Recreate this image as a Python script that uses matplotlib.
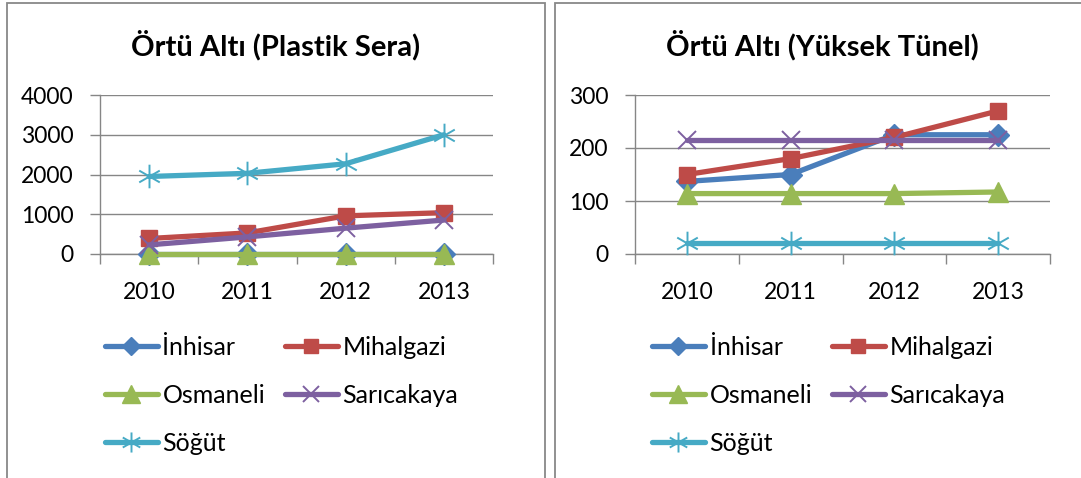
import matplotlib
matplotlib.use("Agg")
import matplotlib.pyplot as plt
from matplotlib.path import Path
from matplotlib.patches import Rectangle
import numpy as np

years = ["2010", "2011", "2012", "2013"]
series_names = ["İnhisar", "Mihalgazi", "Osmaneli", "Sarıcakaya", "Söğüt"]

# Plastik Sera
sera_inhisar = [10, 10, 10, 10]
sera_mihalgazi = [390, 530, 960, 1040]
sera_osmaneli = [5, 5, 5, 5]
sera_saricakaya = [230, 430, 650, 855]
sera_sogut = [1950, 2030, 2270, 3000]

# Yüksek Tünel
tunel_inhisar = [137, 150, 225, 225]
tunel_mihalgazi = [150, 180, 220, 270]
tunel_osmaneli = [114, 114, 114, 117]
tunel_saricakaya = [215, 215, 215, 215]
tunel_sogut = [20, 20, 20, 20]

titles = ["Örtü Altı (Plastik Sera)", "Örtü Altı (Yüksek Tünel)"]
yticks_left = [0, 1000, 2000, 3000, 4000]
yticks_right = [0, 100, 200, 300]

colors = ["#4A7EBB", "#BE4B48", "#98B954", "#7D60A0", "#46AAC5"]

star = Path([(0, -1), (0, 1), (-0.87, -0.5), (0.87, 0.5), (-0.87, 0.5), (0.87, -0.5)],
            [Path.MOVETO, Path.LINETO, Path.MOVETO, Path.LINETO, Path.MOVETO, Path.LINETO])
markers = [
    dict(marker="D", ms=11, mfc=colors[0], mec=colors[0]),
    dict(marker="s", ms=12, mfc=colors[1], mec=colors[1]),
    dict(marker="^", ms=15, mfc=colors[2], mec=colors[2]),
    dict(marker="x", ms=13, mec=colors[3], mew=1.4),
    dict(marker=star, ms=17, mec=colors[4], mew=1.4),
]

plt.rcParams['font.family'] = ['Lato', 'DejaVu Sans']
W, H = 1081, 478
fig = plt.figure(figsize=(W / 100, H / 100), dpi=100)

def fx(px):
    return px / W

def fy(py):
    return 1 - py / H

# panel borders
fig.patches.append(Rectangle((fx(7), fy(490)), fx(545 - 7), fy(3) - fy(490),
                             transform=fig.transFigure, fill=False, ec="#888888", lw=1.3))
fig.patches.append(Rectangle((fx(555), fy(490)), fx(1100 - 555), fy(3) - fy(490),
                             transform=fig.transFigure, fill=False, ec="#888888", lw=1.3))

panels = [
    dict(x0=100, x1=493, data=[sera_inhisar, sera_mihalgazi, sera_osmaneli, sera_saricakaya, sera_sogut],
         yt=yticks_left, title_x=276, leg_x=105),
    dict(x0=635, x1=1050, data=[tunel_inhisar, tunel_mihalgazi, tunel_osmaneli, tunel_saricakaya, tunel_sogut],
         yt=yticks_right, title_x=822, leg_x=652),
]

ytop, ybot = 95, 254
for i, p in enumerate(panels):
    ax = fig.add_axes([fx(p["x0"]), fy(ybot), fx(p["x1"] - p["x0"]), fy(ytop) - fy(ybot)])
    x = np.arange(len(years))
    handles = []
    for k in range(5):
        ln, = ax.plot(x, p["data"][k], color=colors[k], lw=3.8, label=series_names[k],
                      solid_capstyle="round", clip_on=False, zorder=3 + k, **markers[k])
        handles.append(ln)
    ax.set_xlim(-0.5, 3.5)
    ax.set_ylim(p["yt"][0], p["yt"][-1])
    ax.set_yticks(p["yt"])
    ax.set_xticks(np.arange(-0.5, 4.0, 1.0))
    ax.set_xticklabels([])
    ax.set_xticks(x, minor=True)
    ax.set_xticklabels(years, minor=True)
    ax.tick_params(axis="x", which="major", length=7, width=1, color="#868686", direction="out")
    ax.tick_params(axis="x", which="minor", length=0, pad=20, labelsize=16.5)
    ax.tick_params(axis="y", length=7, width=1, color="#868686", direction="out", pad=12, labelsize=16.5)
    ax.grid(axis="y", color="#868686", lw=1)
    ax.set_axisbelow(True)
    for s in ["top", "right"]:
        ax.spines[s].set_visible(False)
    for s in ["left", "bottom"]:
        ax.spines[s].set_color("#868686")
        ax.spines[s].set_linewidth(1)
    fig.text(fx(p["title_x"]), fy(45), titles[i], ha="center", va="center",
             fontsize=21, fontweight="bold")
    leg_order = [0, 2, 4, 1, 3]
    ax.legend(handles=[handles[j] for j in leg_order], loc="upper left",
              bbox_to_anchor=(fx(p["leg_x"]), fy(336)),
              bbox_transform=fig.transFigure, ncol=2, frameon=False, fontsize=18,
              handlelength=2.1, handletextpad=0.2, columnspacing=0.8, labelspacing=1.0,
              borderaxespad=0, borderpad=0, markerscale=0.85)

fig.savefig("out.png", dpi=100)
